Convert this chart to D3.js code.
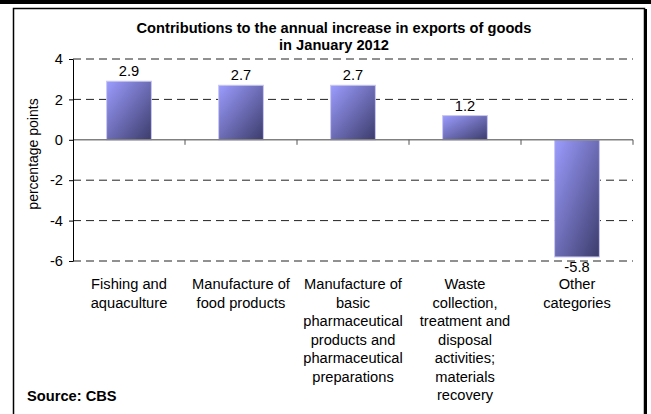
<!DOCTYPE html>
<html>
<head>
<meta charset="utf-8">
<script src="https://cdn.jsdelivr.net/npm/d3@7"></script>
<style>
  html, body { margin: 0; padding: 0; background: #fff; }
  svg { display: block; font-family: Arial, "Liberation Sans", sans-serif; }
</style>
</head>
<body>
<svg id="chart" width="651" height="414"></svg>
<script>
// Contributions to the annual increase in exports of goods, January 2012
const categories = [
  ["Fishing and", "aquaculture"],
  ["Manufacture of", "food products"],
  ["Manufacture of", "basic", "pharmaceutical", "products and", "pharmaceutical", "preparations"],
  ["Waste", "collection,", "treatment and", "disposal", "activities;", "materials", "recovery"],
  ["Other", "categories"]
];
const values = [2.9, 2.7, 2.7, 1.2, -5.8];
const valueLabels = ["2.9", "2.7", "2.7", "1.2", "-5.8"];
const yTicks = [4, 2, 0, -2, -4, -6];
const titleLines = ["Contributions to the annual increase in exports of goods", "in January 2012"];

const svg = d3.select("#chart");
const W = 651, H = 414;
const FS = 14.67;
const plot = { left: 73, right: 633, top: 59, bottom: 261 };

// outer frame
svg.append("rect").attr("x", 0).attr("y", 0).attr("width", W).attr("height", 4).attr("fill", "#000");
svg.append("rect").attr("x", 13.5).attr("y", 8.5).attr("width", 631).attr("height", 420)
  .attr("fill", "none").attr("stroke", "#000").attr("stroke-width", 1.5);
svg.append("line").attr("x1", 646).attr("x2", 646).attr("y1", 9).attr("y2", H)
  .attr("stroke", "#000").attr("stroke-width", 2);

const idx = d3.range(values.length);
const x = d3.scaleBand().domain(idx).range([plot.left, plot.right]).paddingInner(0.6).paddingOuter(0.3);
const xb = d3.scaleBand().domain(idx).range([plot.left, plot.right]);
const y = d3.scaleLinear().domain([-6, 4]).range([plot.bottom, plot.top]);

// gradient for bars
const defs = svg.append("defs");
const grad = defs.append("linearGradient").attr("id", "barGrad")
  .attr("x1", "0%").attr("y1", "0%").attr("x2", "100%").attr("y2", "100%");
grad.append("stop").attr("offset", "0%").attr("stop-color", "#9c9cff");
grad.append("stop").attr("offset", "100%").attr("stop-color", "#3c3c6c");

// title
svg.append("g").selectAll("text").data(titleLines).join("text")
  .attr("x", 334).attr("y", (d, i) => 33 + i * 17)
  .attr("text-anchor", "middle").attr("font-size", FS).attr("font-weight", "bold")
  .text(d => d);

// dashed gridlines
svg.append("g").selectAll("line").data(yTicks.filter(t => t !== 0)).join("line")
  .attr("x1", plot.left).attr("x2", plot.right)
  .attr("y1", d => y(d)).attr("y2", d => y(d))
  .attr("stroke", "#222").attr("stroke-width", 1).attr("stroke-dasharray", "8,5");

// bars
svg.append("g").selectAll("rect").data(idx).join("rect")
  .attr("x", i => x(i))
  .attr("width", x.bandwidth())
  .attr("y", i => y(Math.max(0, values[i])))
  .attr("height", i => Math.abs(y(values[i]) - y(0)))
  .attr("fill", "url(#barGrad)")
  .attr("stroke", "#c8c8f0").attr("stroke-width", 1);

// zero axis with category ticks
const zero = svg.append("g").attr("transform", `translate(0,${y(0)})`);
zero.append("line").attr("x1", plot.left).attr("x2", plot.right).attr("stroke", "#808080").attr("stroke-width", 1.5);
zero.selectAll("line.tk").data(idx).join("line").attr("class", "tk")
  .attr("x1", i => xb(i) + xb.bandwidth()).attr("x2", i => xb(i) + xb.bandwidth())
  .attr("y1", 0).attr("y2", 5).attr("stroke", "#555");

// y axis
const yAxis = d3.axisLeft(y).tickValues(yTicks).tickSize(4).tickSizeOuter(0).tickFormat(d => String(d));
const ya = svg.append("g").attr("transform", `translate(${plot.left},0)`).call(yAxis);
ya.select(".domain").attr("stroke", "#000");
ya.selectAll(".tick line").attr("stroke", "#000");
ya.selectAll(".tick text").attr("font-size", FS).attr("fill", "#000")
  .attr("font-family", "Arial, 'Liberation Sans', sans-serif").attr("x", -10);

// y axis title
svg.append("text").attr("transform", `translate(38,154) rotate(-90)`)
  .attr("text-anchor", "middle").attr("font-size", 14).text("percentage points");

// value labels
svg.append("g").selectAll("text").data(idx).join("text")
  .attr("x", i => x(i) + x.bandwidth() / 2)
  .attr("y", i => values[i] >= 0 ? y(values[i]) - 5 : y(values[i]) + 15)
  .attr("text-anchor", "middle").attr("font-size", FS)
  .text(i => valueLabels[i]);

// category labels
const cat = svg.append("g").selectAll("text").data(idx).join("text")
  .attr("x", i => xb(i) + xb.bandwidth() / 2)
  .attr("y", 289)
  .attr("text-anchor", "middle").attr("font-size", FS);
cat.selectAll("tspan").data(i => categories[i].map(s => ({ s, x: xb(i) + xb.bandwidth() / 2 }))).join("tspan")
  .attr("x", d => d.x).attr("dy", (d, j) => j === 0 ? 0 : 18.5).text(d => d.s);

// source
svg.append("text").attr("x", 27).attr("y", 401).attr("font-size", FS).attr("font-weight", "bold").text("Source: CBS");
</script>
</body>
</html>
